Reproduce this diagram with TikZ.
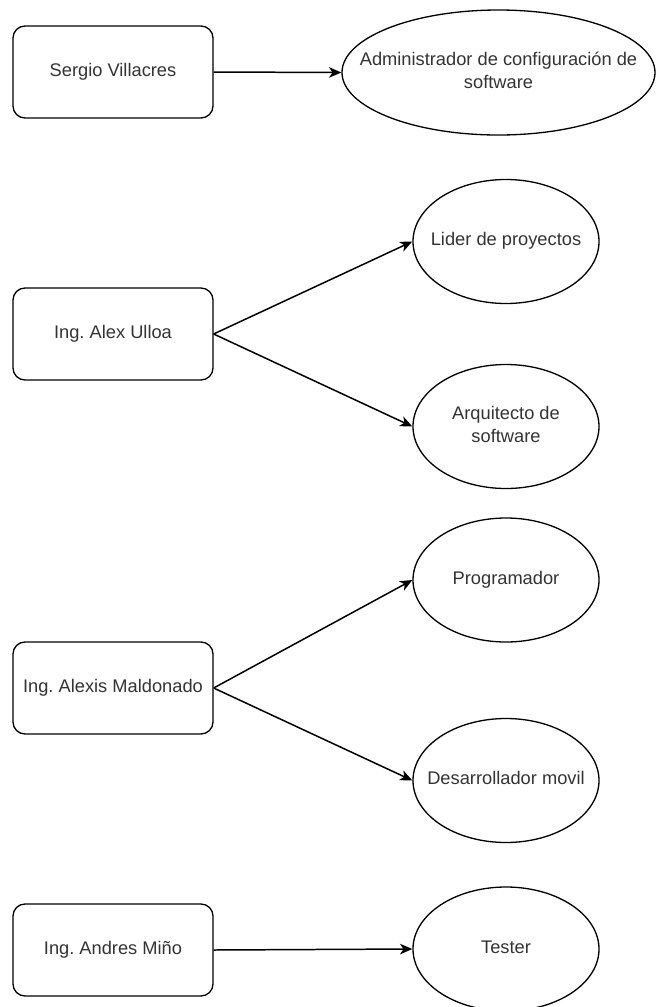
\documentclass[tikz,border=0pt]{standalone}
\usepackage{fontspec}
\setmainfont{Liberation Sans}
\frenchspacing
\usetikzlibrary{shapes.geometric,arrows.meta}
% text of a role does not widen its ellipse
\newcommand{\roletext}[1]{\makebox[0pt]{\begin{tabular}{@{}c@{}}#1\end{tabular}}}
\tikzset{
    person/.style={draw, rounded corners=0.24cm, minimum width=4cm, minimum height=1.84cm, line width=0.75pt, text=black!80},
    role/.style={draw, ellipse, minimum width=3.72cm, minimum height=2.48cm, inner sep=0pt, line width=0.75pt, text=black!80},
    link/.style={-{Stealth[length=7pt,width=6pt,inset=2pt]}, line width=0.85pt}
}
\begin{document}
\begin{tikzpicture}[font=\fontsize{10.4}{12.6}\selectfont]
    \useasboundingbox (0,0) rectangle (13.14,-20.14);
    \node[person] (sergio) at (2.26,-1.44) {Sergio Villacres};
    \node[role, minimum width=6.26cm, minimum height=2.5cm] (admin) at (9.97,-1.45) {\roletext{Administrador de configuración de\\software}};
    \node[person] (ulloa) at (2.26,-6.68) {Ing. Alex Ulloa};
    \node[role] (lider) at (10.12,-4.83) {\roletext{Lider de proyectos}};
    \node[role] (arqui) at (10.12,-8.53) {\roletext{Arquitecto de\\software}};
    \node[person] (maldonado) at (2.26,-13.76) {Ing. Alexis Maldonado};
    \node[role] (progra) at (10.12,-11.60) {\roletext{Programador}};
    \node[role] (movil) at (10.12,-15.61) {\roletext{Desarrollador movil}};
    \node[person] (mino) at (2.26,-19.0) {Ing. Andres Miño};
    \node[role] (tester) at (10.12,-18.98) {\roletext{Tester}};
    \draw[link] (sergio.east) -- (admin.west);
    \draw[link] (ulloa.east) -- (lider.west);
    \draw[link] (ulloa.east) -- (arqui.west);
    \draw[link] (maldonado.east) -- (progra.west);
    \draw[link] (maldonado.east) -- (movil.west);
    \draw[link] (mino.east) -- (tester.west);
\end{tikzpicture}
\end{document}
